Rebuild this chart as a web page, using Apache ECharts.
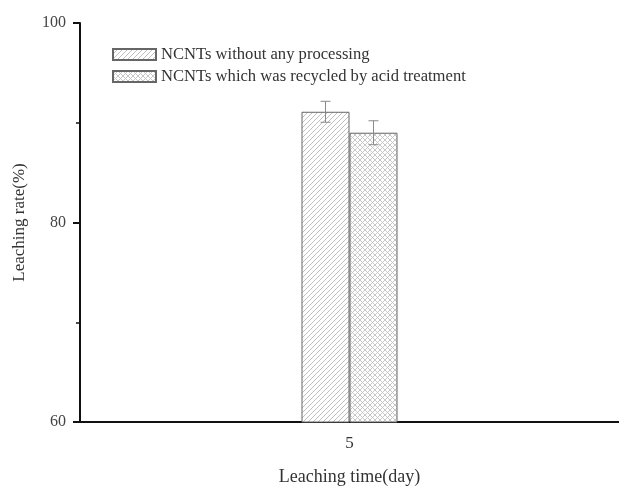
<!DOCTYPE html>
<html><head><meta charset="utf-8">
<script src="https://cdn.jsdelivr.net/npm/echarts@6/dist/echarts.min.js"></script>
<style>html,body{margin:0;padding:0;background:#fff}#c{width:619px;height:486px}</style>
</head><body><div id="c"></div>
<script>
var categories = ['5'];
var seriesNames = ['NCNTs without any processing', 'NCNTs which was recycled by acid treatment'];
var rawValues = [91.1];
var recycledValues = [89.0];
var rawErrors = [1.05];
var recycledErrors = [1.2];
var yTicks = [60, 80, 100];

function makePattern(kind) {
  var s = 5;
  var c = document.createElement('canvas');
  c.width = s; c.height = s;
  var g = c.getContext('2d');
  g.fillStyle = '#fff'; g.fillRect(0, 0, s, s);
  g.strokeStyle = kind === 'hatch' ? '#b8b8b8' : '#c2c2c2';
  g.lineWidth = 0.9;
  g.beginPath();
  g.moveTo(-1, s + 1); g.lineTo(s + 1, -1);
  g.moveTo(-1, 1); g.lineTo(1, -1);
  g.moveTo(s - 1, s + 1); g.lineTo(s + 1, s - 1);
  if (kind === 'cross') {
    g.moveTo(-1, -1); g.lineTo(s + 1, s + 1);
    g.moveTo(s - 1, -1); g.lineTo(s + 1, 1);
    g.moveTo(-1, s - 1); g.lineTo(1, s + 1);
  }
  g.stroke();
  return { image: c, repeat: 'repeat' };
}

var font = "'Liberation Serif','Times New Roman',serif";
var chart = echarts.init(document.getElementById('c'));

function errSeries(vals, errs, offset) {
  return {
    type: 'custom',
    silent: true,
    z: 10,
    data: vals.map(function (v, i) { return [i, v, errs[i]]; }),
    renderItem: function (params, api) {
      var i = api.value(0), v = api.value(1), e = api.value(2);
      var top = api.coord([i, v + e]);
      var bot = api.coord([i, v - e]);
      var x = top[0] + offset;
      var cap = 5;
      var st = { stroke: '#8a8a8a', lineWidth: 1 };
      return {
        type: 'group',
        children: [
          { type: 'line', shape: { x1: x, y1: top[1], x2: x, y2: bot[1] }, style: st },
          { type: 'line', shape: { x1: x - cap, y1: top[1], x2: x + cap, y2: top[1] }, style: st },
          { type: 'line', shape: { x1: x - cap, y1: bot[1], x2: x + cap, y2: bot[1] }, style: st }
        ]
      };
    }
  };
}

chart.setOption({
  backgroundColor: '#fff',
  animation: false,
  textStyle: { fontFamily: font },
  grid: { left: 80, right: 0, top: 23, bottom: 64, containLabel: false, outerBoundsMode: 'none' },
  legend: {
    left: 107, top: 41, orient: 'vertical', itemWidth: 43, itemHeight: 11, itemGap: 5,
    data: seriesNames,
    textStyle: { fontFamily: font, fontSize: 16.6, color: '#333' },
    icon: 'rect'
  },
  xAxis: {
    type: 'category', data: categories,
    name: 'Leaching time(day)', nameLocation: 'middle', nameGap: 46,
    nameTextStyle: { fontFamily: font, fontSize: 18, color: '#333' },
    axisLine: { lineStyle: { color: '#111', width: 2 } },
    axisTick: { alignWithLabel: true, length: 7, lineStyle: { color: '#111', width: 2 } },
    axisLabel: { fontFamily: font, fontSize: 17, color: '#333', margin: 13 }
  },
  yAxis: {
    type: 'value', min: yTicks[0], max: yTicks[yTicks.length - 1], interval: 20,
    name: 'Leaching rate(%)', nameLocation: 'middle', nameGap: 52,
    nameTextStyle: { fontFamily: font, fontSize: 17, color: '#333' },
    axisLine: { show: true, lineStyle: { color: '#111', width: 2 } },
    axisTick: { show: true, length: 7, lineStyle: { color: '#111', width: 2 } },
    minorTick: { show: true, splitNumber: 2, length: 4, lineStyle: { color: '#111', width: 1.5 } },
    splitLine: { show: false },
    axisLabel: { fontFamily: font, fontSize: 16, color: '#444', margin: 14 }
  },
  series: [
    {
      name: seriesNames[0], type: 'bar', data: rawValues, barWidth: 48, barGap: '0%',
      itemStyle: { color: makePattern('hatch'), borderColor: '#666', borderWidth: 1 }
    },
    {
      name: seriesNames[1], type: 'bar', data: recycledValues, barWidth: 48, barGap: '0%',
      itemStyle: { color: makePattern('cross'), borderColor: '#666', borderWidth: 1 }
    },
    errSeries(rawValues, rawErrors, -24),
    errSeries(recycledValues, recycledErrors, 24)
  ]
});
</script></body></html>
